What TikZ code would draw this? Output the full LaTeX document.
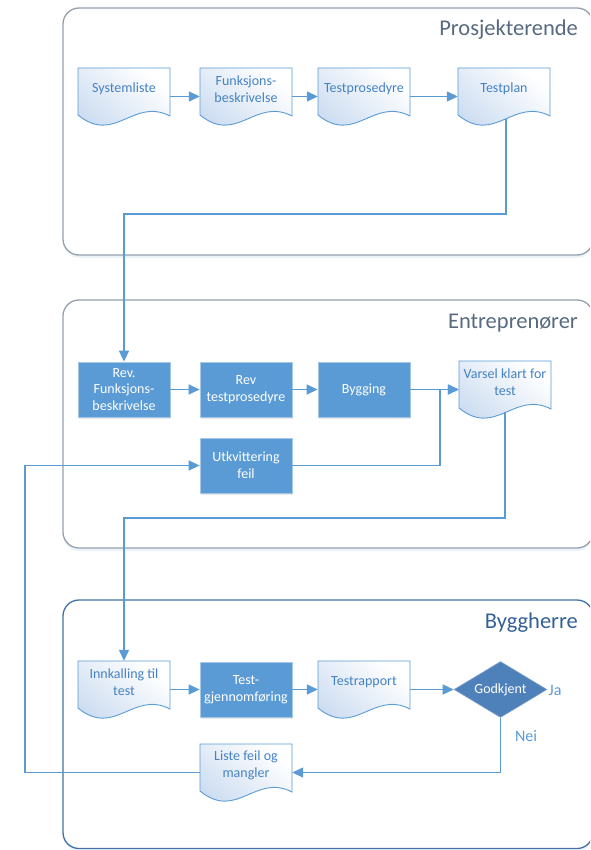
\documentclass[tikz,border=0pt]{standalone}
\usepackage{fontspec}
\setmainfont{Carlito}
\usetikzlibrary{shapes.geometric,arrows.meta,shadows}
\definecolor{lineblue}{RGB}{91,155,213}
\definecolor{boxblue}{RGB}{91,155,213}
\definecolor{diablue}{RGB}{78,128,185}
\definecolor{textblue}{RGB}{70,130,195}
\definecolor{docfill}{RGB}{200,218,240}
\definecolor{panelgray}{RGB}{150,160,172}
\definecolor{panelblue}{RGB}{65,113,166}
\definecolor{titlegray}{RGB}{88,106,128}
\definecolor{titleblue}{RGB}{52,98,150}
\newcommand\dgfont{\fontsize{14}{16.7}\selectfont}
\newcommand\yesnofont{\fontsize{16}{18}\selectfont}
\newcommand\ttlfont{\fontsize{22.5}{26}\selectfont}
\newcommand\docnode[4]{%
  \shadedraw[docsh] ({#2-46},#3) -- ({#2+46},#3) -- ({#2+46},{#3+48})
    .. controls ({#2+9.2},{#3+29}) and ({#2-9.2},{#3+77}) .. ({#2-46},{#3+47}) -- cycle;
  \node[docbox] (#1) at (#2,{#3+28.5}) {};
  \node[doclab] (#1-t) at (#2,{#3+21}) {#4};}
\begin{document}
\begin{tikzpicture}[x=1pt,y=-1pt,
  panel/.style={rounded corners=16pt, line width=1.3pt, fill=white,
    drop shadow={shadow xshift=0pt, shadow yshift=-3pt, opacity=0.25, fill=lineblue!45}},
  paneltitle/.style={anchor=east, inner sep=0pt, font=\ttlfont},
  docsh/.style={draw=lineblue, line width=0.9pt, top color=white, bottom color=docfill, shading angle=-40},
  docbox/.style={rectangle, minimum width=92pt, minimum height=57pt, inner sep=0pt},
  doclab/.style={text=textblue, align=center, font=\dgfont, inner sep=0pt},
  boxnode/.style={rectangle, fill=boxblue, draw=boxblue!55!white, line width=0.8pt,
    minimum width=92pt, minimum height=55pt, text=white, align=center, font=\dgfont, inner sep=2pt,
    drop shadow={opacity=0.18, shadow xshift=1pt, shadow yshift=-2pt}},
  dianode/.style={diamond, aspect=2, fill=diablue, draw=diablue!70!white, line width=0.6pt,
    minimum width=93pt, minimum height=56pt, inner sep=0pt, text=white, font=\dgfont},
  lbl/.style={text=lineblue, font=\yesnofont, inner sep=0pt},
  arr/.style={draw=lineblue, line width=1.4pt, -{Triangle[length=11pt,width=10pt]}},
  ln/.style={draw=lineblue, line width=1.4pt}]
\useasboundingbox (0,0) rectangle (590,850);
\clip (0,0) rectangle (590,850);

% panels
\draw[panel, draw=panelgray] (63,8) rectangle (593,255);
\draw[panel, draw=panelgray] (63,300) rectangle (593,548);
\draw[panel, draw=panelblue] (63,600) rectangle (593,848.5);
\node[paneltitle, text=titlegray] (t1) at (578,30) {Prosjekterende};
\node[paneltitle, text=titlegray] (t2) at (578,323) {Entreprenører};
\node[paneltitle, text=titleblue] (t3) at (578,623) {Byggherre};

% top row
\docnode{sys}{124}{68}{Systemliste}
\docnode{fb}{246}{68}{Funksjons-\\beskrivelse}
\docnode{tp}{364}{68}{Testprosedyre}
\docnode{tpl}{504}{68}{Testplan}

% middle row
\node[boxnode] (rfb) at (124,389.5) {Rev.\\Funksjons-\\beskrivelse};
\node[boxnode] (rtp) at (246,389.5) {Rev\\testprosedyre};
\node[boxnode] (byg) at (364,389.5) {Bygging};
\docnode{var}{505}{361}{Varsel klart for\\test}
\node[boxnode] (utk) at (246,465.5) {Utkvittering\\feil};

% bottom row
\docnode{inn}{124}{661}{Innkalling til\\test}
\node[boxnode] (tg) at (246,689.5) {Test-\\gjennomføring};
\docnode{tr}{364}{661}{Testrapport}
\node[dianode] (god) at (500.5,689.5) {Godkjent};
\docnode{lfm}{246}{744}{Liste feil og\\mangler}
\node[lbl, anchor=west] (ja) at (548.5,690) {Ja};
\node[lbl] (nei) at (526,736) {Nei};

% connectors
\draw[arr] (sys.east) -- (fb.west);
\draw[arr] (fb.east) -- (tp.west);
\draw[arr] (tp.east) -- (tpl.west);
\draw[arr] ([xshift=2pt,yshift=6pt]tpl.south) -- ([xshift=2pt]tpl.south |- 0,214) -| (rfb.north);
\draw[arr] (rfb.east) -- (rtp.west);
\draw[arr] (rtp.east) -- (byg.west);
\draw[arr] (byg.east) -- (var.west);
\draw[arr] (utk.east) -| ([xshift=-19pt]var.west) -- (var.west);
\draw[arr] ([yshift=6pt]var.south) -- (var.south |- 0,518) -| (inn.north);
\draw[arr] (inn.east) -- (tg.west);
\draw[arr] (tg.east) -- (tr.west);
\draw[arr] (tr.east) -- (god.west);
\draw[arr] (god.south) |- (lfm.east);
\draw[arr] (lfm.west) -- (lfm.west -| 25,0) |- (utk.west);
\end{tikzpicture}
\end{document}
